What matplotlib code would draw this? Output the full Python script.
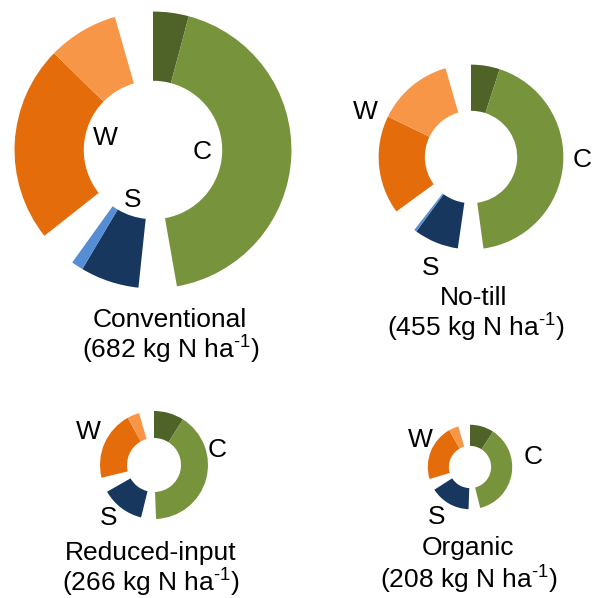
import matplotlib.pyplot as plt

plt.rcParams['font.family'] = ['Liberation Sans', 'DejaVu Sans']
plt.rcParams['mathtext.fontset'] = 'custom'
plt.rcParams['mathtext.rm'] = 'Liberation Sans'
plt.rcParams['mathtext.it'] = 'Liberation Sans:italic'

# N inputs by tillage system
systems = ['Conventional', 'No-till', 'Reduced-input', 'Organic']
totals = [682, 455, 266, 208]  # kg N ha-1

# share of total N (%) for each part of the ring
c_dark = [4.8, 5.8, 10.4, 10.6]
c_main = [49.7, 49.4, 46.6, 42.6]
s_main = [7.9, 9.0, 14.9, 17.8]
s_light = [1.6, 0.5, 0.0, 0.0]
w_main = [26.5, 19.9, 23.9, 24.7]
w_light = [9.5, 15.4, 4.2, 4.3]
group_labels = ['C', 'S', 'W']

colors = ['#4f6228', '#77933c', 'none',
          '#17375e', '#558ed5', 'none',
          '#e46c0a', '#f79646', 'none']

# layout (pixels, y up)
centers = [(153, 448), (471, 441), (154, 133), (470, 131)]
px_per_kg = 0.203
gap = 16 / 312 * 100  # blank slice between groups
label_offsets = [
    {'C': (49, -2), 'S': (-20, -50), 'W': (-48, 12)},
    {'C': (111, -3), 'S': (-40, -111), 'W': (-106, 45)},
    {'C': (63, 15), 'S': (-45, -53), 'W': (-66, 33)},
    {'C': (63, 10), 'S': (-33, -50), 'W': (-50, 27)},
]
title_pos = [((170, 278), (171, 248)), ((474, 300), (476, 270)),
             ((151, 45), (151, 15)), ((468, 50), (469, 18))]

fig = plt.figure(figsize=(6, 5.98), dpi=100)
ax = fig.add_axes([0, 0, 1, 1])

for i, name in enumerate(systems):
    vals = [c_dark[i], c_main[i], gap, s_main[i], s_light[i], gap,
            w_main[i], w_light[i], gap]
    r = totals[i] * px_per_kg
    ax.pie(vals, colors=colors, radius=r, center=centers[i], startangle=90,
           counterclock=False, frame=True,
           wedgeprops=dict(width=r * 0.5, linewidth=0))
    cx, cy = centers[i]
    for g in group_labels:
        dx, dy = label_offsets[i][g]
        ax.text(cx + dx, cy + dy, g, ha='center', va='center', fontsize=19)
    (x1, y1), (x2, y2) = title_pos[i]
    ax.text(x1, y1, name, ha='center', va='center', fontsize=19)
    ax.text(x2, y2, f'({totals[i]} kg N ha$^{{\\text{{-1}}}}$)',
            ha='center', va='center', fontsize=19)

ax.set_xlim(0, 600)
ax.set_ylim(0, 598)
ax.set_aspect('equal')
ax.axis('off')

fig.savefig('out.png', dpi=100)
